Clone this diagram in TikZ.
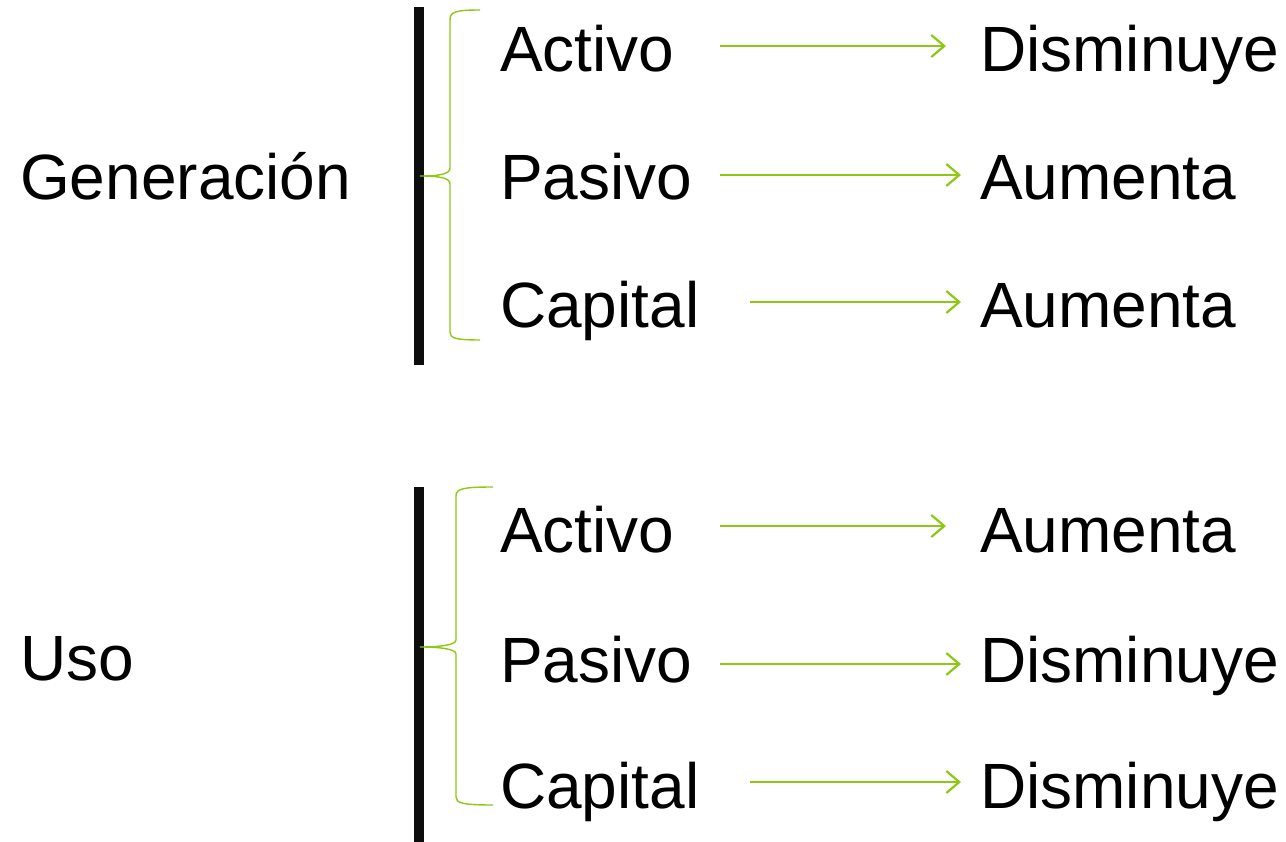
\documentclass[tikz,border=0pt]{standalone}
\usepackage{fontspec}
\setmainfont{Liberation Sans}
\usetikzlibrary{arrows.meta}
\definecolor{grn}{HTML}{8CC814}
\tikzset{
  lbl/.style={anchor=base west, inner sep=0pt, font=\fontsize{64}{70}\selectfont},
  bar/.style={line width=10pt, black!95},
  brace/.style={draw=grn, line width=1.4pt},
  arr/.style={draw=grn, line width=2.2pt, -{Straight Barb[length=13pt,width=22pt,line width=2.2pt]}}
}
\begin{document}
\begin{tikzpicture}[x=1pt,y=-1pt]
\useasboundingbox (0,0) rectangle (1286,842);
% left labels
\node[lbl] (gen) at (20,200) {Generación};
\node[lbl] (uso) at (20,680) {Uso};
% bars
\coordinate (b1t) at (418.5,7); \coordinate (b1b) at (418.5,365);
\coordinate (b2t) at (418.5,487); \coordinate (b2b) at (418.5,842);
\draw[bar] (b1t) -- (b1b);
\draw[bar] (b2t) -- (b2b);
% braces
\draw[brace] (480,10) .. controls (455,10) and (450,12) .. (450,20) -- (450,168)
  .. controls (450,174) and (440,176) .. (420,176)
  .. controls (440,176) and (450,178) .. (450,184) -- (450,332)
  .. controls (450,338) and (455,340) .. (480,340);
\draw[brace] (493,487) .. controls (462,487) and (456,489) .. (456,496) -- (456,640)
  .. controls (456,645) and (440,647) .. (420,647)
  .. controls (440,647) and (456,649) .. (456,654) -- (456,797)
  .. controls (456,803) and (462,805) .. (493,805);
% middle labels
\node[lbl] (a1) at (500,72) {Activo};
\node[lbl] (p1) at (500,200) {Pasivo};
\node[lbl] (c1) at (500,328) {Capital};
\node[lbl] (a2) at (500,552) {Activo};
\node[lbl] (p2) at (500,682) {Pasivo};
\node[lbl] (c2) at (500,808) {Capital};
% right labels
\node[lbl] (r1) at (980,72) {Disminuye};
\node[lbl] (r2) at (980,200) {Aumenta};
\node[lbl] (r3) at (980,328) {Aumenta};
\node[lbl] (r4) at (980,552) {Aumenta};
\node[lbl] (r5) at (980,682) {Disminuye};
\node[lbl] (r6) at (980,808) {Disminuye};
% arrows
\coordinate (s1) at (720,46); \coordinate (e1) at (946,46);
\coordinate (s2) at (720,175); \coordinate (e2) at (961,175);
\coordinate (s3) at (750,302); \coordinate (e3) at (961,302);
\coordinate (s4) at (720,526); \coordinate (e4) at (946,526);
\coordinate (s5) at (720,664); \coordinate (e5) at (961,664);
\coordinate (s6) at (750,782); \coordinate (e6) at (961,782);
\foreach \i in {1,...,6} \draw[arr] (s\i) -- (e\i);
\end{tikzpicture}
\end{document}
